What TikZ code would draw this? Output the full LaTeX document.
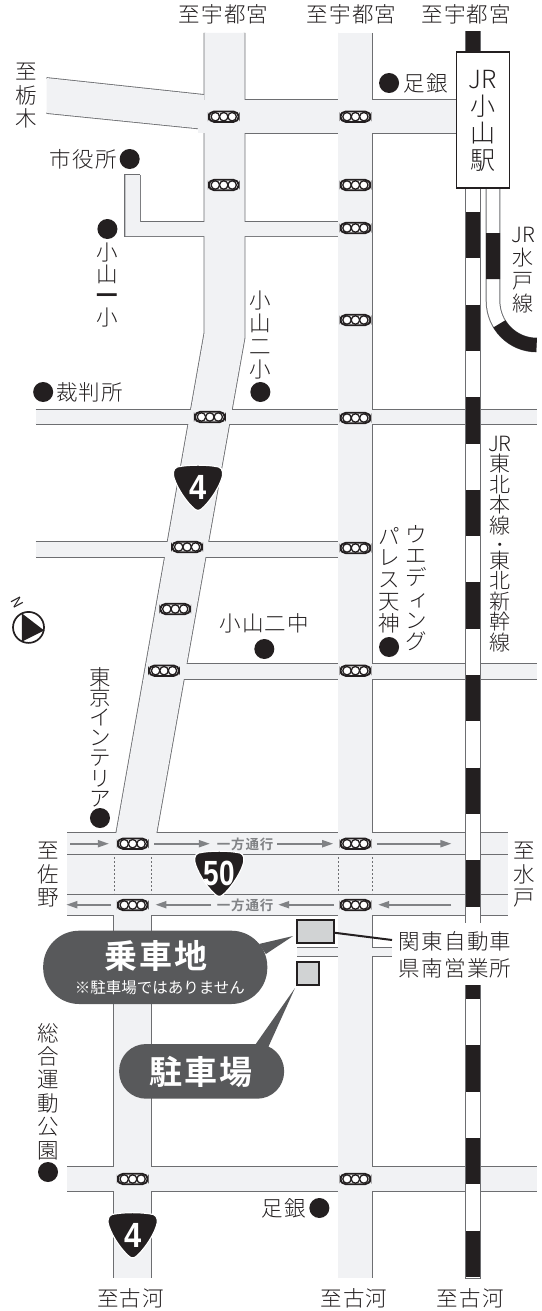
\documentclass[tikz,border=0pt]{standalone}
\usepackage{fontspec}
\usetikzlibrary{arrows.meta,calc}
\newfontfamily\jp{Noto Sans CJK JP Light}[LetterSpace=6]
\newfontfamily\jpt{Noto Sans CJK JP Light}
\newfontfamily\jpb{Noto Sans CJK JP Bold}[LetterSpace=6]
\newfontfamily\jpm{Noto Sans CJK JP}
\newfontfamily\dig{Liberation Sans Bold}
\definecolor{roadfill}{HTML}{F1F2F4}
\definecolor{roadedge}{HTML}{6D6E71}
\definecolor{ink}{HTML}{231F20}
\definecolor{bubble}{HTML}{58595B}
\definecolor{flow}{HTML}{808285}
\definecolor{lot}{HTML}{D1D3D4}
\tikzset{
  road/.style={fill=roadfill,draw=none},
  edge/.style={draw=roadedge,line width=1.7pt},
  label/.style={inner sep=0pt,outer sep=0pt,align=center,text=ink,font={\jp\fontsize{21.5}{23.5}\selectfont}},
  spot/.style={circle,fill=ink,minimum size=20pt,inner sep=0pt},
  signalbox/.style={rounded corners=5.4pt,draw=ink,fill=white,line width=1.8pt,minimum width=30pt,minimum height=10.5pt,inner sep=0pt},
  flowarrow/.style={draw=flow,line width=1.9pt,-{Triangle[length=11pt,width=7pt]}},
  flowtext/.style={inner sep=0pt,text=flow,font={\jpb\fontsize{13.5}{13}\selectfont}},
  shieldshape/.style={fill=ink,draw=white,line width=1.2pt},
  shieldtext/.style={inner sep=0pt,text=white,font={\dig\fontsize{35}{35}\selectfont}},
  railside/.style={draw=roadedge,line width=1pt},
  railblack/.style={draw=ink,line width=14pt},
  callout/.style={fill=bubble,draw=none},
  lotbox/.style={fill=lot,draw=ink,line width=2pt},
}
\newcommand{\signalat}[3]{%
  \node[signalbox] (#1) at (#2,#3) {};
  \foreach \dx in {-8.5,0,8.5} {\draw[ink,line width=1.3pt,fill=white] (#2+\dx,#3) circle (4.2pt);}
}
\newcommand{\shieldat}[4]{%
  \path[shieldshape] (#1-21,#2-21.5) .. controls (#1-10,#2-24) and (#1+10,#2-24) .. (#1+21,#2-21.5)
    .. controls (#1+25.5,#2-20) and (#1+25.5,#2-14) .. (#1+24,#2-10)
    .. controls (#1+20,#2+2) and (#1+10,#2+15) .. (#1+4,#2+20)
    .. controls (#1+1.5,#2+22.5) and (#1-1.5,#2+22.5) .. (#1-4,#2+20)
    .. controls (#1-10,#2+15) and (#1-20,#2+2) .. (#1-24,#2-10)
    .. controls (#1-25.5,#2-14) and (#1-25.5,#2-20) .. (#1-21,#2-21.5) -- cycle;
  \node[shieldtext] (shield#3) at (#1,#2-1) {\scalebox{#4}[1]{#3}};
}
\begin{document}
\begin{tikzpicture}[x=0.99pt,y=-1pt]
\useasboundingbox (0,0) rectangle (547.47,1311);
% ---- road edges
\draw[edge] (47,78) -- (206.5,95) (47,113) -- (206.5,129);
\draw[edge] (247,100) -- (461,100) (247,133) -- (461,133);
\draw[edge] (206.5,33) -- (206.5,333) -- (117.5,833) (247,33) -- (247,338) -- (158,833);
\draw[edge] (341.8,33) -- (341.8,1278) (375.7,33) -- (375.7,1278);
\draw[edge] (141.6,175) -- (126.6,175) -- (126.6,236) -- (342,236);
\draw[edge] (141.6,175) -- (141.6,222) -- (342,222);
\draw[edge] (36,410) -- (542,410) (36,424) -- (542,424);
\draw[edge] (36,542) -- (342,542) (36,557) -- (342,557);
\draw[edge] (150,664) -- (542,664) (150,679) -- (542,679);
\draw[edge] (67.7,833) -- (513.5,833) (67.7,915) -- (513.5,915);
\draw[edge] (300,948) -- (470,948) (300,956) -- (470,956);
\draw[edge] (67.7,1167) -- (542,1167) (67.7,1191) -- (542,1191);
\draw[edge] (115.5,915) -- (115.5,1278) (152.4,915) -- (152.4,1278);
% ---- road fills
\fill[road] (47,78) -- (206.5,95) -- (206.5,129) -- (47,113) -- cycle;
\fill[road] (200,100) rectangle (470,133);
\path[road] (206.5,33) -- (206.5,333) -- (117.5,833) -- (158,833) -- (247,338) -- (247,33) -- cycle;
\fill[road] (341.8,33) rectangle (375.7,1278);
\path[road] (126.6,175) -- (141.6,175) -- (141.6,222) -- (342,222) -- (342,236) -- (126.6,236) -- cycle;
\fill[road] (36,410) rectangle (542,424);
\fill[road] (36,542) rectangle (345,557);
\fill[road] (150,664) rectangle (542,679);
\fill[road] (67.7,833) rectangle (513.5,915);
\fill[road] (300,948) rectangle (470,956);
\fill[road] (67.7,1167) rectangle (542,1191);
\fill[road] (115.5,915) rectangle (152.4,1278);
% ---- lane lines and dotted stop lines
\draw[draw=roadedge,line width=.9pt] (67.7,854) -- (513.5,854) (67.7,894) -- (513.5,894);
\draw[draw=roadedge,line width=.7pt,dash pattern=on 2pt off 2pt]
  (115.5,857) -- (115.5,893) (152.4,857) -- (152.4,893) (341.8,857) -- (341.8,893) (375.7,857) -- (375.7,893);
% ---- Mito line
\draw[draw=roadedge,line width=14.6pt] (498,188) -- (498,301) arc[start angle=180,end angle=90,x radius=43.6pt,y radius=-44pt];
\draw[draw=white,line width=12.6pt] (498,188) -- (498,301) arc[start angle=180,end angle=90,x radius=43.6pt,y radius=-44pt];
\draw[railblack,dash pattern=on 0pt off 45pt on 46pt off 46pt on 120pt] (498,188) -- (498,301) arc[start angle=180,end angle=90,x radius=43.6pt,y radius=-44pt];
% ---- main line
\fill[white] (470.5,31) rectangle (485,1278);
\draw[railside] (470.5,31) -- (470.5,1278) -- (485,1278) -- (485,31);
\draw[railblack] (477.7,31) -- (477.7,52);
\draw[railblack,dash pattern=on 46.3pt off 46.3pt] (477.7,212) -- (477.7,1278);
% ---- station
\node[draw=ink,fill=white,line width=1.3pt,minimum width=53pt,minimum height=136pt,inner sep=0pt] (station) at (487.7,120) {};
\node[label,font={\jpt\fontsize{25}{27}\selectfont}] (stationtext) at (487.6,120.5) {JR\\小\\山\\駅};
% ---- white panel behind office name
\fill[white] (396,923) rectangle (516,985);
% ---- signals
\signalat{s1}{226}{116.7}\signalat{s2}{359}{116.7}\signalat{s3}{226}{185}\signalat{s4}{359}{185}
\signalat{s5}{359}{228}\signalat{s6}{359}{320}\signalat{s7}{212}{417}\signalat{s8}{359}{418}
\signalat{s9}{189}{547}\signalat{s10}{359}{548}\signalat{s11}{177}{609}\signalat{s12}{165.7}{670.7}
\signalat{s13}{359}{670.7}\signalat{s14}{134}{843.7}\signalat{s15}{359}{843.7}\signalat{s16}{134}{905}
\signalat{s17}{359}{905}\signalat{s18}{134}{1179}\signalat{s19}{359}{1179}
% ---- one-way arrows
\coordinate (a1) at (71,843.7);\coordinate (a2) at (110,843.7);
\coordinate (a3) at (156,843.7);\coordinate (a4) at (212,843.7);
\coordinate (a5) at (280,843.7);\coordinate (a6) at (336.6,843.7);
\coordinate (a7) at (380.5,843.7);\coordinate (a8) at (456,843.7);
\draw[flowarrow] (a1) -- (a2);\draw[flowarrow] (a3) -- (a4);\draw[flowarrow] (a5) -- (a6);\draw[flowarrow] (a7) -- (a8);
\coordinate (b1) at (456,904.7);\coordinate (b2) at (382,904.7);
\coordinate (b3) at (337.6,904.7);\coordinate (b4) at (281,904.7);
\coordinate (b5) at (213.5,904.7);\coordinate (b6) at (157,904.7);
\coordinate (b7) at (112,904.7);\coordinate (b8) at (67,904.7);
\draw[flowarrow] (b1) -- (b2);\draw[flowarrow] (b3) -- (b4);\draw[flowarrow] (b5) -- (b6);\draw[flowarrow] (b7) -- (b8);
\node[flowtext] (oneway1) at (247.6,844) {一方通行};
\node[flowtext] (oneway2) at (247.6,905) {一方通行};
% ---- shields
\shieldat{200}{488.5}{4}{.88}
\shieldat{221.5}{874.5}{50}{.8}
\shieldat{134}{1236}{4}{.88}
% ---- parking lots and callouts
\draw[white,line width=5pt] (300,920) rectangle (337.6,943);
\draw[white,line width=5pt] (300,962) rectangle (322,985);
\path[lotbox] (300,920) rectangle (337.6,943);
\path[lotbox] (300,962) rectangle (322,985);
\coordinate (leaderend) at (396,940);
\draw[ink,line width=2pt] (337.6,932.7) -- (leaderend);
\path[callout,rounded corners=36pt] (43.6,930.7) rectangle (270,1004);
\fill[bubble] (296,936) -- (261.6,944) -- (268.6,954) -- cycle;
\path[callout,rounded corners=27pt] (120.3,1044) rectangle (287,1098.7);
\fill[bubble] (298,988) -- (258,1044.5) -- (271,1047) -- cycle;
\node[inner sep=0pt,text=white,font={\jpb\fontsize{33}{33}\selectfont}] (board) at (157.6,956) {乗車地};
\node[inner sep=0pt,text=white,font={\jpm\fontsize{15.5}{16}\selectfont}] (note) at (161.5,987.7) {※駐車場ではありません};
\node[inner sep=0pt,text=white,font={\jpb\fontsize{33}{33}\selectfont}] (park) at (203,1071.7) {駐車場};
% ---- point markers
\node[spot] (p1) at (393,83) {};
\node[spot] (p2) at (131,159) {};
\node[spot] (p3) at (108.5,229) {};
\node[spot] (p4) at (263,392) {};
\node[spot] (p5) at (43.6,392) {};
\node[spot] (p6) at (393,647) {};
\node[spot] (p7) at (267,649) {};
\node[spot] (p8) at (101,818) {};
\node[spot] (p9) at (48.5,1172) {};
\node[spot] (p10) at (322.6,1208) {};
% ---- labels
\node[label] (t1) at (225.7,14) {至宇都宮};
\node[label] (t2) at (355,14) {至宇都宮};
\node[label] (t3) at (471,14) {至宇都宮};
\node[label] (t4) at (27,96) {至\\栃\\木};
\node[label] (t5) at (430,83) {足銀};
\node[label] (t6) at (84,159) {市役所};
\node[label,font={\jpt\fontsize{21.5}{21.5}\selectfont}] (t7) at (108.5,285) {小\\山\\\textbf{一}\\小};
\node[label,font={\jpt\fontsize{21.5}{23}\selectfont}] (t8) at (263,335) {小\\山\\二\\小};
\node[label] (t9) at (90.5,392) {裁判所};
\node[label,font={\jpt\fontsize{21.5}{21.5}\selectfont}] (t10) at (420,588) {ウ\\エ\\デ\\\hspace*{6pt}ィ\\ン\\グ};
\node[label,font={\jpt\fontsize{21.5}{21.8}\selectfont}] (t11) at (393,580) {パ\\レ\\ス\\天\\神};
\node[label] (t12) at (267,623) {小山二中};
\node[label,font={\jpt\fontsize{21.5}{20.2}\selectfont}] (t13) at (101,737) {東\\京\\イ\\ン\\テ\\リ\\ア};
\node[label,font={\jpt\fontsize{21}{20.5}\selectfont}] (t14) at (505,544) {JR\\東\\北\\本\\線\\[-3pt]{\jpm\fontsize{15}{15}\selectfont ・}\\[-3pt]東\\北\\新\\幹\\線};
\node[label,font={\jpt\fontsize{21}{23}\selectfont}] (t15) at (528.4,270) {JR\\水\\戸\\線};
\node[label,font={\jpt\fontsize{21.5}{23.5}\selectfont}] (t16) at (48.5,875) {至\\佐\\野};
\node[label,font={\jpt\fontsize{21.5}{23.5}\selectfont}] (t17) at (530,875) {至\\水\\戸};
\node[label,font={\jp\fontsize{21.5}{27}\selectfont}] (t18) at (459.7,954.5) {関東自動車\\県南営業所};
\node[label] (t19) at (287,1208) {足銀};
\node[label,font={\jpt\fontsize{21.5}{23.4}\selectfont}] (t20) at (48.5,1091.5) {総\\合\\運\\動\\公\\園};
\node[label] (t21) at (132,1298) {至古河};
\node[label] (t22) at (357.5,1298) {至古河};
\node[label] (t23) at (475,1298) {至古河};
% ---- compass
\node[circle,draw=ink,line width=1.7pt,minimum size=31pt,inner sep=0pt,fill=white] (compass) at (28.8,627.4) {};
\fill[ink] (22,613.3) -- (44.6,630.5) -- (22,641.7) -- cycle;
\node[inner sep=0pt,rotate=-62,text=ink,font={\jpm\fontsize{14}{14}\selectfont}] (north) at (17.5,603) {N};
\end{tikzpicture}
\end{document}
